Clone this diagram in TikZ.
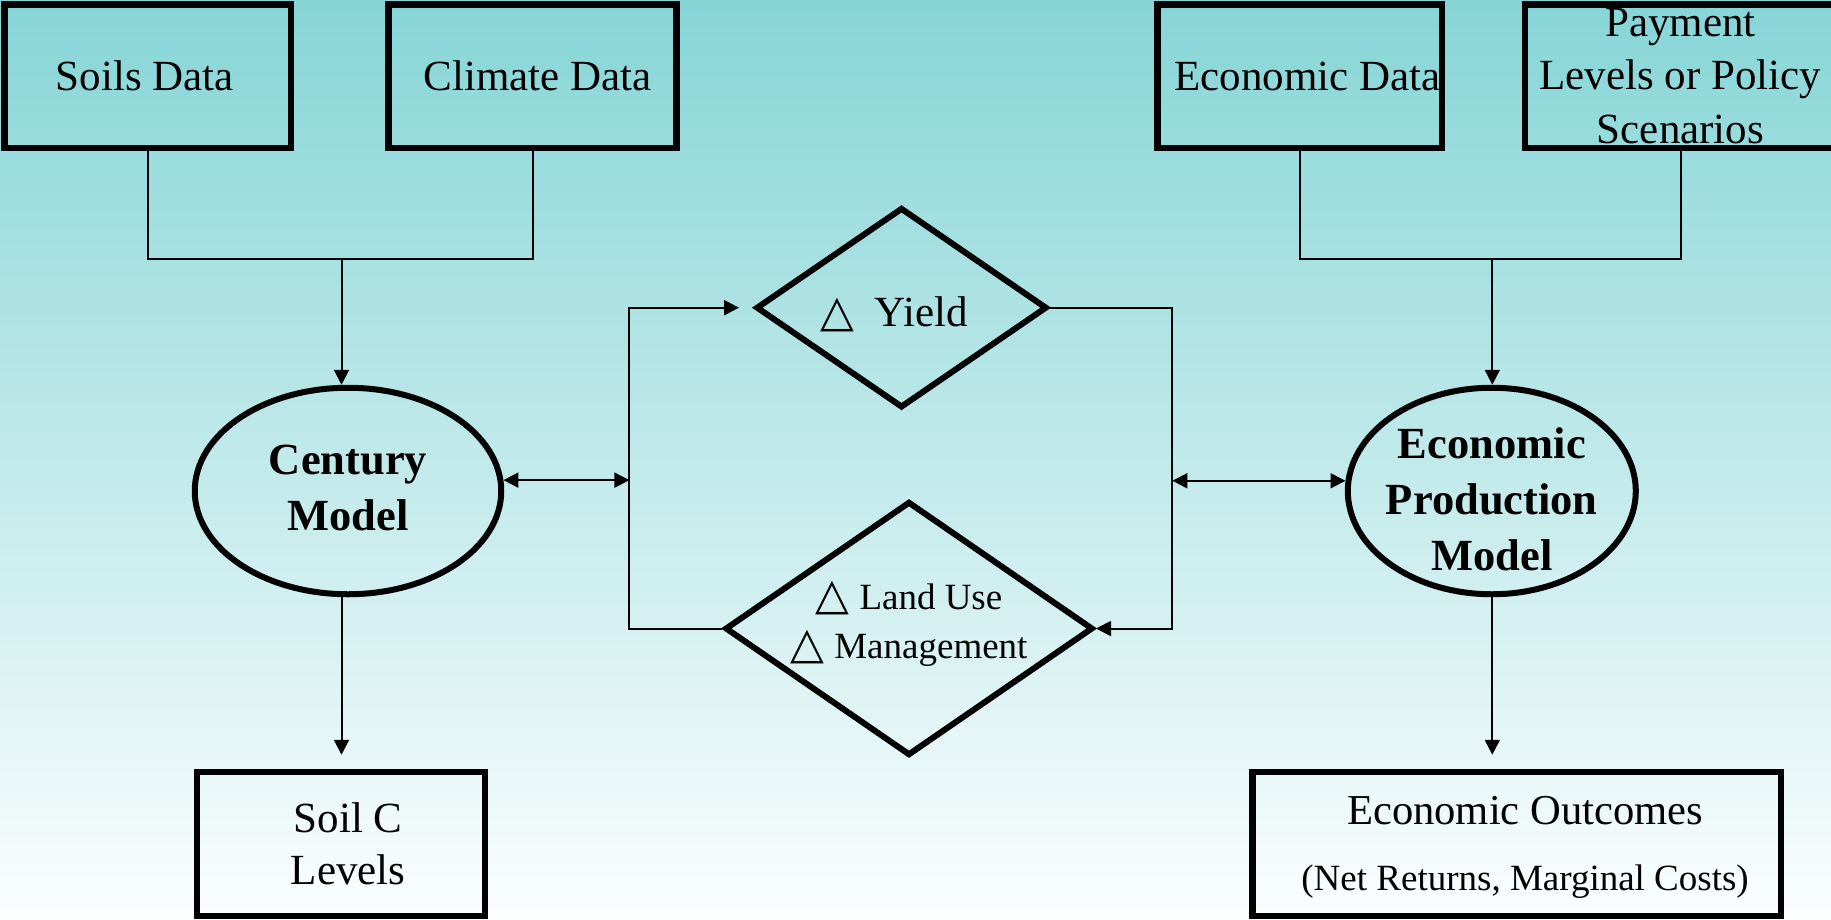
\documentclass[tikz,border=0pt]{standalone}
\usepackage{fontspec}
\setmainfont{Liberation Serif}
\newfontfamily\symfont{DejaVu Sans}
\usetikzlibrary{shapes.geometric,arrows.meta}
\definecolor{bgtop}{RGB}{134,213,215}
\definecolor{bgbot}{RGB}{252,254,254}
\newcommand{\tri}{{\symfont\fontsize{44}{44}\selectfont △}}
\begin{document}
\begin{tikzpicture}[x=1pt,y=-1pt,
  databox/.style={draw, line width=6.5pt, inner sep=0pt, align=center, font=\fontsize{43}{53.5}\selectfont},
  model/.style={draw, ellipse, line width=6pt, inner sep=0pt, align=center, font=\bfseries\fontsize{44.5}{56}\selectfont},
  choice/.style={draw, diamond, line width=6pt, inner sep=0pt},
  conn/.style={line width=2pt},
  arr/.style={-{Triangle[length=15pt,width=15pt]}},
  darr/.style={{Triangle[length=15pt,width=15pt]}-{Triangle[length=15pt,width=15pt]}},
]
\useasboundingbox (0,0) rectangle (1831,919);
\shade[top color=bgtop, bottom color=bgbot] (0,0) rectangle (1831,919);

% top data boxes
\node[databox, minimum width=286.5pt, minimum height=143.5pt] (soils) at (147.75,76) {Soils Data\hspace*{6pt}};
\node[databox, minimum width=288pt, minimum height=143.5pt] (climate) at (532.5,76) {\hspace*{10pt}Climate Data};
\node[databox, minimum width=284.5pt, minimum height=143.5pt] (econdata) at (1299.5,76) {\hspace*{16pt}Economic Data};
\node[databox, minimum width=311pt, minimum height=143.5pt] (payment) at (1680.5,76) {Payment\\Levels or Policy\\Scenarios};

% models
\node[model, minimum width=306.5pt, minimum height=206.5pt] (century) at (348,491) {Century\\Model\rule[-7pt]{0pt}{1pt}};
\node[model, inner sep=-20pt, minimum width=288pt, minimum height=206.5pt] (econ) at (1491.8,491) {\rule{0pt}{48pt}Economic\\Production\\Model};

% diamonds
\node[choice, minimum width=291pt, minimum height=192pt, text height=38pt, text depth=0pt, font=\fontsize{43}{50}\selectfont] (yield) at (901.5,307.7) {\tri\hspace{20.6pt}Yield\hspace*{14.6pt}};
\node[choice, align=center, inner xsep=-40pt, minimum width=368pt, minimum height=254pt, font=\fontsize{37}{49}\selectfont] (landuse) at (909,628.5) {\tri\hspace{10pt}Land Use\\\tri\hspace{10pt}Management\rule[-17.5pt]{0pt}{1pt}};

% outputs
\node[databox, minimum width=288pt, minimum height=144pt, font=\fontsize{43}{51.5}\selectfont] (soilc) at (341,844) {\hspace*{14.6pt}Soil C\\\hspace*{14.6pt}Levels};
\node[databox, minimum width=528.3pt, minimum height=144pt, font=\fontsize{42.6}{51}\selectfont] (outcomes) at (1516.6,844) {\hspace*{17pt}\rule{0pt}{34pt}Economic Outcomes\\[15pt]{\fontsize{37}{44}\selectfont\hspace*{17pt}(Net Returns, Marginal Costs)}};

% junction coordinates
\coordinate (jL) at (341.5,259.2);
\coordinate (jR) at (1492.3,259.2);
\coordinate (L) at (629.4,481);
\coordinate (R) at (1172.4,481);

% inputs
\draw[conn] (soils.south) -- (soils.south |- jL) -- (climate.south |- jL) -- (climate.south);
\draw[conn,arr] (jL) -- (jL |- century.north);
\draw[conn] (econdata.south) -- (econdata.south |- jR) -- (payment.south |- jR) -- (payment.south);
\draw[conn,arr] (jR) -- (jR |- econ.north);

% exchange arrows
\draw[conn,darr] (century.4) -- (century.4 -| L);
\draw[conn,darr] (R |- econ.176) -- (econ.176);

% loops
\draw[conn,arr,shorten >=14pt] (landuse.west) -- (L |- landuse.west) -- (L |- yield.west) -- (yield.west);
\draw[conn,arr] (yield.east) -- (R |- yield.east) -- (R |- landuse.east) -- (landuse.east);

% outputs
\draw[conn,arr,shorten >=14pt] (jL |- century.south) -- (jL |- soilc.north);
\draw[conn,arr,shorten >=14pt] (jR |- econ.south) -- (jR |- outcomes.north);
\end{tikzpicture}
\end{document}
